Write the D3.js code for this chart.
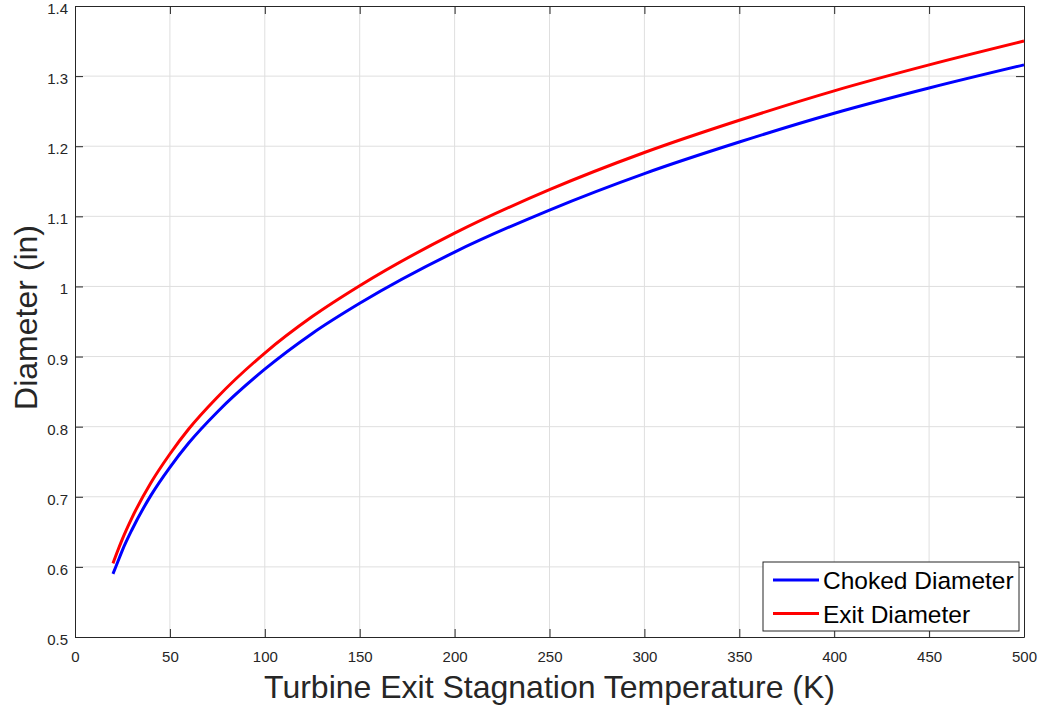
<!DOCTYPE html>
<html>
<head>
<meta charset="utf-8">
<script src="https://cdn.jsdelivr.net/npm/d3@7"></script>
<style>
  body { margin: 0; background: #fff; }
  svg { display: block; font-family: "Liberation Sans", Arial, sans-serif; }
</style>
</head>
<body>
<div id="chart"></div>
<script>
const temps = [20, 22.5, 25, 30, 40, 50, 60, 75, 100, 125, 150, 200, 250, 300, 350, 400, 450, 500];
const chokedDiam = [0.590, 0.607, 0.624, 0.653, 0.702, 0.742, 0.777, 0.821, 0.882, 0.933, 0.976, 1.049, 1.109, 1.161, 1.206, 1.247, 1.283, 1.316];
const exitDiam = [0.605, 0.623, 0.640, 0.670, 0.720, 0.761, 0.797, 0.842, 0.905, 0.957, 1.001, 1.076, 1.138, 1.191, 1.237, 1.279, 1.316, 1.350];
const seriesNames = ["Choked Diameter", "Exit Diameter"];
const seriesColors = ["#0000ff", "#ff0000"];
const xTicks = [0, 50, 100, 150, 200, 250, 300, 350, 400, 450, 500];
const yTicks = [0.5, 0.6, 0.7, 0.8, 0.9, 1, 1.1, 1.2, 1.3, 1.4];

const margin = { top: 6, right: 21, bottom: 68, left: 75 },
    width = 1045 - margin.left - margin.right,
    height = 705 - margin.top - margin.bottom;

const axisColor = "#262626";

const xScale = d3.scaleLinear().domain([0, 500]).range([0, width]);
const yScale = d3.scaleLinear().domain([0.5, 1.4]).range([height, 0]);

const svg = d3.select("#chart").append("svg")
    .attr("width", 1045)
    .attr("height", 705)
    .append("g")
    .attr("transform", `translate(${margin.left}, ${margin.top})`);

// grid
svg.append("g").selectAll("line.gx")
    .data(xTicks.slice(1, -1))
    .enter().append("line")
    .attr("x1", d => xScale(d)).attr("x2", d => xScale(d))
    .attr("y1", 0).attr("y2", height)
    .style("stroke", "#dfdfdf").style("stroke-width", 1);
svg.append("g").selectAll("line.gy")
    .data(yTicks.slice(1, -1))
    .enter().append("line")
    .attr("x1", 0).attr("x2", width)
    .attr("y1", d => yScale(d)).attr("y2", d => yScale(d))
    .style("stroke", "#dfdfdf").style("stroke-width", 1);

// axes (ticks pointing inward, box on all sides)
const fmt = d3.format("~g");
const styleAxis = g => {
    g.select(".domain").style("stroke", axisColor);
    g.selectAll(".tick line").style("stroke", axisColor);
    g.selectAll(".tick text").style("fill", axisColor).style("font-size", "15px")
        .style("font-family", "'Liberation Sans', Arial, sans-serif");
};

svg.append("g")
    .attr("transform", `translate(0, ${height})`)
    .call(d3.axisBottom(xScale).tickValues(xTicks).tickFormat(fmt).tickSizeInner(-8).tickSizeOuter(0).tickPadding(14))
    .call(styleAxis);
svg.append("g")
    .call(d3.axisTop(xScale).tickValues(xTicks).tickFormat("").tickSizeInner(-8).tickSizeOuter(0))
    .call(styleAxis);
svg.append("g")
    .call(d3.axisLeft(yScale).tickValues(yTicks).tickFormat(fmt).tickSizeInner(-8).tickSizeOuter(0))
    .call(styleAxis)
    .selectAll(".tick text").attr("x", -7).attr("dy", "0.5em");
svg.append("g")
    .attr("transform", `translate(${width}, 0)`)
    .call(d3.axisRight(yScale).tickValues(yTicks).tickFormat("").tickSizeInner(-8).tickSizeOuter(0))
    .call(styleAxis);

// curves
const series = [chokedDiam, exitDiam];
const line = d3.line()
    .x(d => xScale(d[0]))
    .y(d => yScale(d[1]))
    .curve(d3.curveMonotoneX);

series.forEach((vals, i) => {
    svg.append("path")
        .datum(temps.map((t, j) => [t, vals[j]]))
        .attr("d", line)
        .style("fill", "none")
        .style("stroke", seriesColors[i])
        .style("stroke-width", 3);
});

// axis labels
svg.append("text")
    .attr("x", width / 2)
    .attr("y", height + 61)
    .style("text-anchor", "middle")
    .style("fill", axisColor)
    .style("font-size", "32px")
    .text("Turbine Exit Stagnation Temperature (K)");

svg.append("text")
    .attr("transform", `translate(${37 - margin.left}, ${height / 2 - 4}) rotate(-90)`)
    .style("text-anchor", "middle")
    .style("fill", axisColor)
    .style("font-size", "32px")
    .text("Diameter (in)");

// legend
const legend = svg.append("g")
    .attr("transform", `translate(${763 - margin.left}, ${562 - margin.top})`);
legend.append("rect")
    .attr("width", 256).attr("height", 69)
    .style("fill", "#fff").style("stroke", axisColor).style("stroke-width", 1);
seriesNames.forEach((name, i) => {
    const y = 18 + i * 33.5;
    legend.append("line")
        .attr("x1", 10).attr("x2", 56)
        .attr("y1", y).attr("y2", y)
        .style("stroke", seriesColors[i]).style("stroke-width", 3);
    legend.append("text")
        .attr("x", 60).attr("y", y + 9)
        .style("fill", "#000")
        .style("font-size", "24.5px")
        .text(name);
});
</script>
</body>
</html>
